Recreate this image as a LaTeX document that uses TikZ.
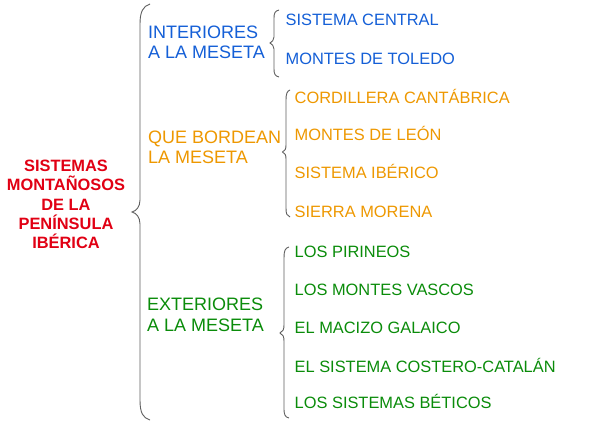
\documentclass[tikz,border=0pt]{standalone}
\usepackage{fontspec}
\setmainfont{Liberation Sans}
\definecolor{tred}{RGB}{225,0,20}
\definecolor{tblue}{RGB}{20,95,215}
\definecolor{torange}{RGB}{238,152,0}
\definecolor{tgreen}{RGB}{10,140,10}
\definecolor{brgray}{RGB}{95,95,95}
\begin{document}
\begin{tikzpicture}[x=1pt,y=-1pt,
  lbl/.style={inner sep=0pt,font=\fontsize{18}{20.5}\selectfont,align=left,anchor=west},
  item/.style={inner sep=0pt,font=\fontsize{16.4}{20}\selectfont,anchor=base west},
  br/.style={draw=brgray,line width=0.9pt}]
\useasboundingbox (0,0) rectangle (600,428);
\fill[white] (0,0) rectangle (600,428);
% title
\node[inner sep=0pt,font=\bfseries\fontsize{16.4}{19.3}\selectfont,align=center,text=tred] (title) at (66,204.5) {SISTEMAS\\MONTAÑOSOS\\DE LA\\PENÍNSULA\\IBÉRICA};
% big brace
\draw[br] (150,4) .. controls (143,6) and (140,12) .. (140,24) -- (140,200) .. controls (140,207) and (136,211) .. (132,212) .. controls (136,213) and (140,217) .. (140,224) -- (140,400) .. controls (140,413) and (143,418) .. (150,420);
% groups
\node[lbl,text=tblue] (interiores) at (148,42.5) {INTERIORES\\A LA MESETA};
\node[lbl,text=torange] (bordean) at (148,147.5) {QUE BORDEAN\\LA MESETA};
\node[lbl,text=tgreen] (exteriores) at (147,315) {EXTERIORES\\A LA MESETA};
% blue brace
\draw[br] (279,10) .. controls (275,11) and (274,13) .. (274,18) -- (274,37) .. controls (274,40) and (272,42) .. (270,43) .. controls (272,44) and (274,46) .. (274,49) -- (274,69) .. controls (274,74) and (275,76) .. (279,77);
% orange brace
\draw[br] (290,90) .. controls (287,91) and (286,94) .. (286,100) -- (286,145) .. controls (286,149) and (285,151) .. (282.5,152) .. controls (285,153) and (286,155) .. (286,159) -- (286,208) .. controls (286,214) and (287,216) .. (290,217);
% green brace
\draw[br] (289,247) .. controls (285,248) and (284,251) .. (284,258) -- (284,325) .. controls (284,329) and (283,332) .. (280,333) .. controls (283,334) and (284,337) .. (284,341) -- (284,408) .. controls (284,415) and (285,417) .. (289,418);
% items
\node[item,text=tblue] (central) at (285.5,25.8) {SISTEMA CENTRAL};
\node[item,text=tblue] (toledo) at (285.5,64.8) {MONTES DE TOLEDO};
\node[item,text=torange] (cantabrica) at (294.5,103.8) {CORDILLERA CANTÁBRICA};
\node[item,text=torange] (leon) at (294.5,140.8) {MONTES DE LEÓN};
\node[item,text=torange] (iberico) at (294.5,178.8) {SISTEMA IBÉRICO};
\node[item,text=torange] (morena) at (294.5,217.8) {SIERRA MORENA};
\node[item,text=tgreen] (pirineos) at (294.5,257.8) {LOS PIRINEOS};
\node[item,text=tgreen] (vascos) at (294.5,295.8) {LOS MONTES VASCOS};
\node[item,text=tgreen] (galaico) at (294.5,333.8) {EL MACIZO GALAICO};
\node[item,text=tgreen] (catalan) at (294.5,372.8) {EL SISTEMA COSTERO-CATALÁN};
\node[item,text=tgreen] (beticos) at (294.5,408.8) {LOS SISTEMAS BÉTICOS};
\end{tikzpicture}
\end{document}
